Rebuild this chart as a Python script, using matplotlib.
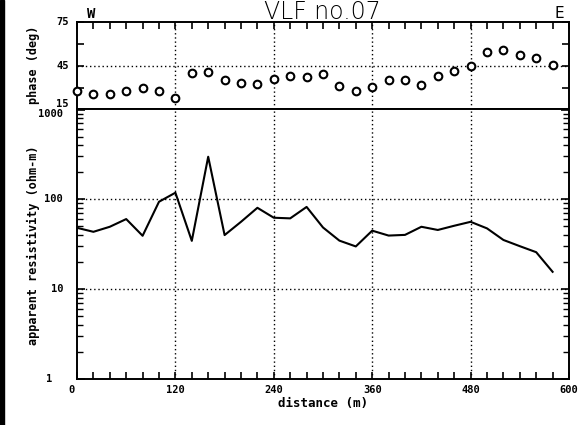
import numpy as np
import matplotlib
matplotlib.use("Agg")
import matplotlib.pyplot as plt
from matplotlib.ticker import LogLocator, NullFormatter, FixedLocator

distance = [0, 20, 40, 60, 80, 100, 120, 140, 160, 180, 200, 220, 240, 260, 280,
            300, 320, 340, 360, 380, 400, 420, 440, 460, 480, 500, 520, 540, 560, 580]
phase = [27.6, 25.3, 25.3, 27.6, 29.9, 28.0, 22.8, 40.2, 40.6, 35.4, 33.3, 32.6, 35.6, 38.3, 37.5,
         39.5, 31.4, 27.5, 30.3, 35.4, 35.4, 32.1, 38.0, 41.3, 45.0, 54.5, 56.0, 52.2, 50.1, 45.3]
resistivity = [48.2, 43.5, 49.5, 60.3, 39.3, 94, 118.5, 34.5, 298, 40, 56.2, 80.5, 62.4, 61.4, 82.3,
               48.6, 34.7, 29.9, 44.8, 39.5, 40.2, 49.5, 45.6, 50.8, 56.2, 47.5, 35.3, 30.1, 25.8, 15.6]
xticks = [0, 120, 240, 360, 480, 600]
xtick_labels = ["0", "120", "240", "360", "480", "600"]
phase_ticks = [15, 45, 75]
res_ticks = [1, 10, 100, 1000]
res_labels = ["1", "10", "100", "1000"]

W, H = 586, 425
fig = plt.figure(figsize=(W / 100, H / 100), dpi=100)
fig.patch.set_facecolor("white")

L, R = 77 / W, 569 / W
y_top = 1 - 22 / H
y_mid = 1 - 109.5 / H
y_bot = 1 - 379 / H

font = dict(family="DejaVu Sans Mono", fontweight="bold")

ax1 = fig.add_axes([L, y_mid, R - L, y_top - y_mid])
ax2 = fig.add_axes([L, y_bot, R - L, y_mid - y_bot])

for ax in (ax1, ax2):
    ax.set_xlim(0, 600)
    for s in ax.spines.values():
        s.set_linewidth(1.4)
        s.set_color("black")
    ax.set_xticks(xticks)
    ax.xaxis.set_minor_locator(FixedLocator(list(range(0, 601, 20))))
    ax.grid(False)
    for gx in xticks[1:-1]:
        ax.axvline(gx, color="black", linestyle=(0, (1, 2)), linewidth=1.0, zorder=1)

# phase panel
ax1.set_ylim(15, 75)
ax1.set_yticks(phase_ticks)
ax1.yaxis.set_minor_locator(FixedLocator([30, 60]))
ax1.set_yticklabels([])
ax1.set_xticklabels([])
ax1.tick_params(axis="x", which="both", direction="in", top=True, bottom=False,
                length=5, width=1.2)
ax1.tick_params(axis="y", which="both", direction="in", left=True, right=True,
                length=5, width=1.2)
ax1.axhline(45, color="black", linestyle=(0, (1, 2)), linewidth=1.0, zorder=1)
ax1.plot(distance, phase, linestyle="none", marker="o", markersize=5.5,
         markerfacecolor="white", markeredgecolor="black", markeredgewidth=1.5,
         clip_on=False, zorder=3)

# resistivity panel
ax2.set_yscale("log")
ax2.set_ylim(1, 1000)
ax2.set_yticks(res_ticks)
ax2.yaxis.set_minor_locator(LogLocator(base=10, subs=np.arange(2, 10)))
ax2.yaxis.set_minor_formatter(NullFormatter())
ax2.set_yticklabels([])
ax2.set_xticklabels([])
ax2.tick_params(axis="x", which="both", direction="in", top=False, bottom=True,
                length=5, width=1.2)
ax2.tick_params(axis="y", which="major", direction="in", left=True, right=True,
                length=6, width=1.2)
ax2.tick_params(axis="y", which="minor", direction="in", left=True, right=True,
                length=4, width=1.0)
for gy in [10, 100]:
    ax2.axhline(gy, color="black", linestyle=(0, (1, 2)), linewidth=1.0, zorder=1)
ax2.plot(distance, resistivity, color="black", linewidth=1.5, zorder=3)

# tick labels as text
for v in phase_ticks:
    ax1.annotate(str(v), xy=(0, v), xycoords=("axes fraction", "data"),
                 xytext=(-6, 4 if v == 15 else 0), textcoords="offset points",
                 ha="right", va="center", fontsize=7.5, **font)
for v, lab in zip(res_ticks, res_labels):
    ax2.annotate(lab, xy=(0, v), xycoords=("axes fraction", "data"),
                 xytext=(-10 if v > 1 else -18, -3 if v == 1000 else 0),
                 textcoords="offset points",
                 ha="right", va="center", fontsize=7.5, **font)
for v, lab in zip(xticks, xtick_labels):
    ax2.annotate(lab, xy=(v, 0), xycoords=("data", "axes fraction"),
                 xytext=(-4 if v == 0 else 0, -4), textcoords="offset points",
                 ha="center", va="top", fontsize=7.5, **font)

ax1.text(0.02, 1.01, "W", transform=ax1.transAxes, ha="left", va="bottom",
         fontsize=10, **font)
ax1.text(0.99, 1.01, "E", transform=ax1.transAxes, ha="right", va="bottom",
         fontsize=11, family="DejaVu Sans")
fig.text(322 / W, 1 - 19 / H, "VLF no.07", ha="center", va="baseline",
         fontsize=17, family="DejaVu Sans", fontweight="light")

fig.text(323 / W, 1 - 403 / H, "distance (m)", ha="center", va="center",
         fontsize=9, **font)
fig.text(33 / W, 1 - 65 / H, "phase (deg)", ha="center", va="center",
         rotation=90, fontsize=8.5, **font)
fig.text(33 / W, 1 - 245 / H, "apparent resistivity (ohm-m)", ha="center",
         va="center", rotation=90, fontsize=8.5, **font)

# scan edge bar
fig.add_artist(plt.Rectangle((0, 0), 4 / W, 1, transform=fig.transFigure,
                             color="black", zorder=0))

fig.savefig("out.png", dpi=100, facecolor="white")
